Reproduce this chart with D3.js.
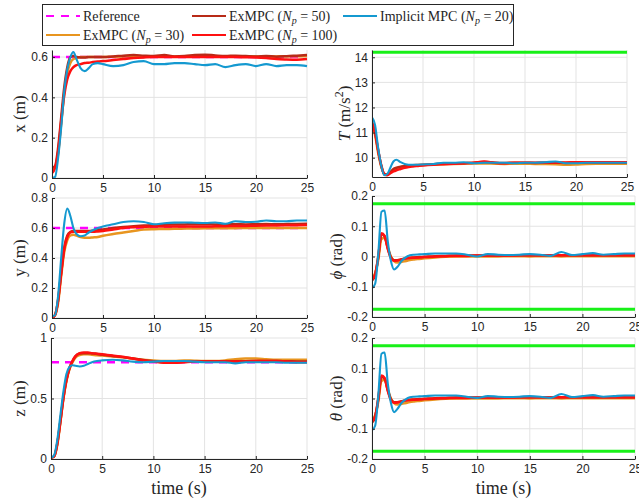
<!DOCTYPE html>
<html lang="en">
<head>
<meta charset="utf-8" />
<style>
  body { margin: 0; background: #fff; }
  .tick text { font-family: "Liberation Sans", Arial, sans-serif; font-size: 12px; fill: #262626; }
  .lbl { font-family: "Liberation Serif", "Times New Roman", serif; fill: #262626; }
</style>
</head>
<body>
<svg width="639" height="499"></svg>
<script src="https://d3js.org/d3.v7.min.js"></script>
<script>
// sample times (s)
var time = [0, 0.3, 0.6, 0.9, 1.2, 1.5, 1.8, 2.1, 2.4, 2.8, 3.2, 3.6, 4, 4.5, 5, 6, 7, 8, 9, 10,
            11, 12, 13, 14, 15, 16, 17, 18, 19, 20, 21, 22, 23, 24, 25];

var seriesNames = ["ExMPC (Np = 30)", "ExMPC (Np = 50)", "ExMPC (Np = 100)", "Implicit MPC (Np = 20)"];
var seriesColors = ["#e8951f", "#b82a17", "#ff1010", "#1499d0"];

var refX = 0.6, refY = 0.6, refZ = 0.8;
var thrustMax = 14.2, angleMax = 0.1745;

// x (m)
var xNp30  = [0.04, 0.05, 0.12, 0.27, 0.42, 0.52, 0.57, 0.59, 0.595, 0.6, 0.6, 0.6, 0.6, 0.6, 0.6, 0.602, 0.603, 0.605, 0.604, 0.603,
              0.604, 0.603, 0.602, 0.603, 0.605, 0.604, 0.603, 0.603, 0.604, 0.603, 0.602, 0.603, 0.604, 0.604, 0.605];
var xNp50  = [0.05, 0.06, 0.15, 0.3, 0.45, 0.55, 0.6, 0.605, 0.6, 0.598, 0.598, 0.6, 0.6, 0.6, 0.6, 0.603, 0.607, 0.61, 0.607, 0.605,
              0.61, 0.603, 0.605, 0.61, 0.612, 0.608, 0.605, 0.607, 0.605, 0.603, 0.605, 0.602, 0.604, 0.607, 0.61];
var xNp100 = [0.025, 0.05, 0.13, 0.28, 0.41, 0.49, 0.53, 0.55, 0.56, 0.565, 0.57, 0.572, 0.575, 0.578, 0.58, 0.585, 0.59, 0.595, 0.598, 0.6,
              0.6, 0.6, 0.6, 0.6, 0.6, 0.6, 0.6, 0.6, 0.599, 0.598, 0.595, 0.59, 0.588, 0.587, 0.59];
var xImpl  = [0, 0.005, 0.1, 0.25, 0.43, 0.54, 0.6, 0.625, 0.59, 0.545, 0.53, 0.545, 0.565, 0.57, 0.565, 0.555, 0.56, 0.575, 0.58, 0.565,
              0.565, 0.57, 0.57, 0.565, 0.56, 0.565, 0.55, 0.56, 0.565, 0.555, 0.565, 0.555, 0.56, 0.56, 0.555];

// y (m)
var yNp30  = [0, 0.02, 0.1, 0.28, 0.44, 0.52, 0.55, 0.555, 0.55, 0.54, 0.535, 0.535, 0.537, 0.54, 0.548, 0.56, 0.57, 0.58, 0.59, 0.592,
              0.593, 0.595, 0.596, 0.597, 0.598, 0.598, 0.598, 0.599, 0.6, 0.6, 0.6, 0.6, 0.6, 0.6, 0.6];
var yNp50  = [0, 0.02, 0.12, 0.3, 0.47, 0.55, 0.575, 0.58, 0.58, 0.58, 0.58, 0.58, 0.582, 0.585, 0.59, 0.6, 0.607, 0.612, 0.616, 0.62,
              0.622, 0.623, 0.624, 0.625, 0.625, 0.624, 0.625, 0.625, 0.624, 0.625, 0.626, 0.625, 0.626, 0.627, 0.628];
var yNp100 = [0, 0.02, 0.12, 0.3, 0.46, 0.54, 0.57, 0.575, 0.575, 0.575, 0.575, 0.575, 0.575, 0.577, 0.58, 0.59, 0.6, 0.605, 0.608, 0.61,
              0.61, 0.61, 0.61, 0.61, 0.61, 0.611, 0.612, 0.613, 0.614, 0.615, 0.616, 0.617, 0.618, 0.619, 0.62];
var yImpl  = [0.01, 0.02, 0.15, 0.4, 0.63, 0.73, 0.68, 0.6, 0.56, 0.545, 0.55, 0.57, 0.585, 0.6, 0.61, 0.625, 0.64, 0.645, 0.64, 0.625,
              0.632, 0.636, 0.637, 0.635, 0.633, 0.637, 0.628, 0.645, 0.64, 0.642, 0.65, 0.645, 0.645, 0.65, 0.65];

// z (m)
var zNp30  = [0.01, 0.02, 0.11, 0.29, 0.49, 0.64, 0.74, 0.8, 0.84, 0.86, 0.865, 0.865, 0.862, 0.858, 0.855, 0.848, 0.84, 0.83, 0.82, 0.815,
              0.81, 0.81, 0.815, 0.812, 0.81, 0.81, 0.815, 0.825, 0.83, 0.83, 0.825, 0.82, 0.82, 0.82, 0.82];
var zNp50  = [0.01, 0.02, 0.12, 0.3, 0.5, 0.65, 0.75, 0.81, 0.85, 0.872, 0.875, 0.875, 0.872, 0.868, 0.862, 0.852, 0.842, 0.83, 0.818, 0.808,
              0.8, 0.8, 0.803, 0.806, 0.807, 0.807, 0.807, 0.808, 0.808, 0.81, 0.81, 0.81, 0.808, 0.806, 0.805];
var zNp100 = [0.01, 0.02, 0.12, 0.3, 0.5, 0.65, 0.75, 0.81, 0.85, 0.875, 0.88, 0.88, 0.875, 0.87, 0.865, 0.855, 0.845, 0.83, 0.815, 0.805,
              0.795, 0.795, 0.8, 0.805, 0.805, 0.805, 0.805, 0.805, 0.805, 0.81, 0.81, 0.81, 0.805, 0.8, 0.8];
var zImpl  = [0.01, 0.03, 0.15, 0.35, 0.55, 0.7, 0.76, 0.775, 0.77, 0.765, 0.77, 0.785, 0.8, 0.81, 0.815, 0.82, 0.815, 0.805, 0.8, 0.805,
              0.81, 0.81, 0.81, 0.805, 0.8, 0.8, 0.8, 0.79, 0.8, 0.8, 0.8, 0.8, 0.795, 0.795, 0.795];

// T (m/s^2)
var tNp30  = [11.3, 10.9, 10.2, 9.65, 9.35, 9.33, 9.42, 9.5, 9.56, 9.62, 9.65, 9.67, 9.68, 9.7, 9.71, 9.72, 9.74, 9.75, 9.76, 9.77,
              9.77, 9.76, 9.75, 9.76, 9.76, 9.75, 9.75, 9.74, 9.72, 9.73, 9.75, 9.76, 9.76, 9.76, 9.76];
var tNp50  = [11.4, 11.0, 10.3, 9.7, 9.35, 9.32, 9.42, 9.55, 9.6, 9.64, 9.66, 9.68, 9.7, 9.71, 9.72, 9.74, 9.76, 9.77, 9.78, 9.8,
              9.83, 9.8, 9.79, 9.8, 9.8, 9.79, 9.8, 9.8, 9.79, 9.8, 9.81, 9.8, 9.8, 9.8, 9.8];
var tNp100 = [11.4, 11.0, 10.3, 9.7, 9.35, 9.3, 9.38, 9.45, 9.5, 9.55, 9.6, 9.63, 9.65, 9.67, 9.69, 9.72, 9.74, 9.76, 9.78, 9.8,
              9.85, 9.8, 9.78, 9.8, 9.8, 9.8, 9.8, 9.81, 9.81, 9.82, 9.82, 9.82, 9.82, 9.82, 9.82];
var tImpl  = [11.6, 11.3, 10.4, 9.7, 9.3, 9.35, 9.6, 9.85, 9.92, 9.82, 9.75, 9.72, 9.72, 9.72, 9.73, 9.75, 9.8, 9.8, 9.82, 9.78,
              9.8, 9.8, 9.8, 9.78, 9.8, 9.8, 9.82, 9.85, 9.78, 9.78, 9.8, 9.8, 9.8, 9.8, 9.8];

// phi (rad)
var phiNp30  = [-0.07, -0.055, -0.01, 0.058, 0.062, 0.03, 0.0, -0.015, -0.02, -0.018, -0.015, -0.012, -0.01, -0.008, -0.006, -0.003, -0.001, 0, 0, 0,
                0, 0, 0.001, 0.001, 0, 0.001, 0.001, 0, 0.001, 0.001, 0.001, 0.001, 0.001, 0.001, 0.001];
var phiNp50  = [-0.08, -0.06, 0.0, 0.074, 0.066, 0.028, -0.003, -0.012, -0.012, -0.009, -0.006, -0.004, -0.003, -0.002, -0.001, 0.001, 0.002, 0.003, 0.003, 0.003,
                0.003, 0.003, 0.004, 0.004, 0.004, 0.004, 0.004, 0.004, 0.004, 0.004, 0.004, 0.004, 0.004, 0.004, 0.004];
var phiNp100 = [-0.075, -0.06, 0.0, 0.077, 0.068, 0.025, -0.005, -0.014, -0.013, -0.01, -0.007, -0.005, -0.004, -0.003, -0.002, 0, 0.001, 0.002, 0.002, 0.003,
                0.003, 0.003, 0.003, 0.004, 0.004, 0.004, 0.004, 0.004, 0.004, 0.004, 0.004, 0.004, 0.004, 0.004, 0.004];
var phiImpl  = [-0.105, -0.09, 0.01, 0.148, 0.152, 0.05, -0.015, -0.043, -0.035, -0.015, -0.003, 0.004, 0.006, 0.007, 0.008, 0.01, 0.01, 0.01, 0.006, 0.0,
                0.008, 0.006, 0.005, 0.006, 0.008, 0.006, 0.002, 0.015, 0.005, 0.008, 0.011, 0.006, 0.008, 0.01, 0.01];

// theta (rad)
var thNp30  = [-0.07, -0.055, -0.01, 0.058, 0.062, 0.03, 0.0, -0.015, -0.02, -0.018, -0.015, -0.012, -0.01, -0.008, -0.006, -0.003, -0.001, 0, 0, 0,
               0, 0, 0.001, 0.001, 0, 0.001, 0.001, 0, 0.001, 0.001, 0.001, 0.001, 0.001, 0.001, 0.001];
var thNp50  = [-0.08, -0.06, 0.0, 0.072, 0.065, 0.028, -0.003, -0.012, -0.012, -0.009, -0.006, -0.004, -0.003, -0.002, -0.001, 0.001, 0.002, 0.003, 0.003, 0.003,
               0.003, 0.003, 0.004, 0.004, 0.004, 0.004, 0.004, 0.004, 0.004, 0.004, 0.004, 0.004, 0.004, 0.004, 0.004];
var thNp100 = [-0.075, -0.06, 0.0, 0.076, 0.068, 0.025, -0.005, -0.014, -0.013, -0.01, -0.007, -0.005, -0.004, -0.003, -0.002, 0, 0.001, 0.002, 0.002, 0.003,
               0.003, 0.003, 0.003, 0.004, 0.004, 0.004, 0.004, 0.004, 0.004, 0.004, 0.004, 0.004, 0.004, 0.004, 0.004];
var thImpl  = [-0.105, -0.09, 0.01, 0.148, 0.152, 0.05, -0.015, -0.045, -0.035, -0.015, -0.003, 0.004, 0.006, 0.007, 0.008, 0.01, 0.01, 0.01, 0.006, 0.002,
               0.008, 0.006, 0.005, 0.006, 0.008, 0.006, 0.002, 0.015, 0.005, 0.008, 0.011, 0.006, 0.008, 0.01, 0.01];

var timeTicks = [0, 5, 10, 15, 20, 25];

var svg = d3.select("svg");

var panels = [
  { name: "x", left: 52, right: 307, top: 50, bottom: 178, dom: [0, 0.635], ticks: [0, 0.2, 0.4, 0.6],
    data: [xNp30, xNp50, xNp100, xImpl], ref: refX, limits: [], label: ["x", false, " (m)"], lx: 19 },
  { name: "T", left: 372, right: 627, top: 50, bottom: 177, dom: [9.23, 14.29], ticks: [10, 11, 12, 13, 14],
    data: [tNp30, tNp50, tNp100, tImpl], ref: null, limits: [thrustMax], label: ["T", true, " (m/s", "2", ")"], lx: 344 },
  { name: "y", left: 52, right: 307, top: 198, bottom: 318, dom: [0, 0.8], ticks: [0, 0.2, 0.4, 0.6, 0.8],
    data: [yNp30, yNp50, yNp100, yImpl], ref: refY, limits: [], label: ["y", false, " (m)"], lx: 19 },
  { name: "phi", left: 372, right: 635, top: 196, bottom: 317, dom: [-0.2, 0.2], ticks: [-0.2, -0.1, 0, 0.1, 0.2],
    data: [phiNp30, phiNp50, phiNp100, phiImpl], ref: null, limits: [angleMax, -angleMax], label: ["\u03d5", true, " (rad)"], lx: 336 },
  { name: "z", left: 51, right: 307, top: 338, bottom: 459, dom: [0, 1], ticks: [0, 0.5, 1],
    data: [zNp30, zNp50, zNp100, zImpl], ref: refZ, limits: [], label: ["z", false, " (m)"], lx: 19, xlabel: true },
  { name: "theta", left: 372, right: 635, top: 338, bottom: 459, dom: [-0.2, 0.2], ticks: [-0.2, -0.1, 0, 0.1, 0.2],
    data: [thNp30, thNp50, thNp100, thImpl], ref: null, limits: [angleMax, -angleMax], label: ["\u03b8", true, " (rad)"], lx: 336, xlabel: true }
];

var fmt = function(d) { return String(+d.toFixed(2)); };

panels.forEach(function(p, i) {
  var x = d3.scaleLinear().domain([0, 25]).range([p.left, p.right]);
  var y = d3.scaleLinear().domain(p.dom).range([p.bottom, p.top]);
  var g = svg.append("g");

  // grid
  g.selectAll(".gx").data(timeTicks).enter().append("line")
    .attr("x1", x).attr("x2", x).attr("y1", p.top).attr("y2", p.bottom)
    .attr("stroke", "#e3e3e3").attr("stroke-width", 1);
  g.selectAll(".gy").data(p.ticks).enter().append("line")
    .attr("x1", p.left).attr("x2", p.right).attr("y1", y).attr("y2", y)
    .attr("stroke", "#e3e3e3").attr("stroke-width", 1);

  g.append("clipPath").attr("id", "clip" + i).append("rect")
    .attr("x", p.left).attr("y", p.top - 2).attr("width", p.right - p.left + 2).attr("height", p.bottom - p.top + 2);
  var plot = g.append("g").attr("clip-path", "url(#clip" + i + ")");

  // constraint limits
  p.limits.forEach(function(v) {
    plot.append("line").attr("x1", p.left).attr("x2", p.right)
      .attr("y1", y(v)).attr("y2", y(v))
      .attr("stroke", "#18f018").attr("stroke-width", 3);
  });

  if (p.ref !== null) {
    plot.append("line").attr("x1", x(0)).attr("x2", x(24.5))
      .attr("y1", y(p.ref)).attr("y2", y(p.ref))
      .attr("stroke", "#ff00ff").attr("stroke-width", 2.5).attr("stroke-dasharray", "8,6");
  }

  var line = d3.line().x(function(d, k) { return x(time[k]); }).y(function(d) { return y(d); })
    .curve(d3.curveMonotoneX);
  p.data.forEach(function(vals, s) {
    plot.append("path").attr("d", line(vals)).attr("fill", "none")
      .attr("stroke", seriesColors[s]).attr("stroke-width", s === 3 ? 2.1 : 2.5)
      .attr("stroke-linejoin", "round");
  });

  // axes
  var ax = g.append("g").attr("transform", "translate(0," + p.bottom + ")")
    .call(d3.axisBottom(x).tickValues(timeTicks).tickSizeInner(-3).tickSizeOuter(0).tickPadding(5));
  var ay = g.append("g").attr("transform", "translate(" + p.left + ",0)")
    .call(d3.axisLeft(y).tickValues(p.ticks).tickFormat(fmt).tickSizeInner(-3).tickSizeOuter(0).tickPadding(4));
  [ax, ay].forEach(function(a) {
    a.select(".domain").attr("stroke", "#262626");
    a.selectAll(".tick line").attr("stroke", "#262626");
    a.selectAll("text").attr("font-family", null).attr("font-size", null);
  });

  // y label
  var lab = svg.append("text").attr("class", "lbl").attr("font-size", 17)
    .attr("text-anchor", "middle")
    .attr("transform", "translate(" + p.lx + "," + ((p.top + p.bottom) / 2) + ") rotate(-90)")
    .attr("dy", "0.35em");
  lab.append("tspan").attr("font-style", p.label[1] ? "italic" : null).text(p.label[0]);
  lab.append("tspan").text(p.label[2]);
  if (p.label.length > 3) {
    lab.append("tspan").attr("font-size", 12).attr("dy", -7).text(p.label[3]);
    lab.append("tspan").attr("dy", 7).text(p.label[4]);
  }

  if (p.xlabel) {
    svg.append("text").attr("class", "lbl").attr("font-size", 18)
      .attr("text-anchor", "middle").attr("x", (p.left + p.right) / 2).attr("y", 494)
      .text("time (s)");
  }
});

// legend
var leg = svg.append("g");
leg.append("rect").attr("x", 42.5).attr("y", 4.5).attr("width", 471).attr("height", 41)
  .attr("fill", "#fff").attr("stroke", "#262626").attr("stroke-width", 1);

var legendItems = [
  { col: 0, row: 0, color: "#ff00ff", dash: true, pre: "Reference" },
  { col: 0, row: 1, color: seriesColors[0], pre: "ExMPC (", np: " = 30)" },
  { col: 1, row: 0, color: seriesColors[1], pre: "ExMPC (", np: " = 50)" },
  { col: 1, row: 1, color: seriesColors[2], pre: "ExMPC (", np: " = 100)" },
  { col: 2, row: 0, color: seriesColors[3], pre: "Implicit MPC (", np: " = 20)" }
];
var colX = [46, 192, 343], rowY = [16, 35];
legendItems.forEach(function(it) {
  var lx = colX[it.col], ly = rowY[it.row];
  leg.append("line").attr("x1", lx).attr("x2", lx + 34).attr("y1", ly).attr("y2", ly)
    .attr("stroke", it.color).attr("stroke-width", 2.2)
    .attr("stroke-dasharray", it.dash ? "8,7" : null);
  var t = leg.append("text").attr("class", "lbl").attr("font-size", 14)
    .attr("x", lx + 37).attr("y", ly + 5);
  t.append("tspan").text(it.pre);
  if (it.np) {
    t.append("tspan").attr("font-style", "italic").text("N");
    t.append("tspan").attr("font-style", "italic").attr("font-size", 10).attr("dy", 3).text("p");
    t.append("tspan").attr("dy", -3).text(it.np);
  }
});
</script>
</body>
</html>
